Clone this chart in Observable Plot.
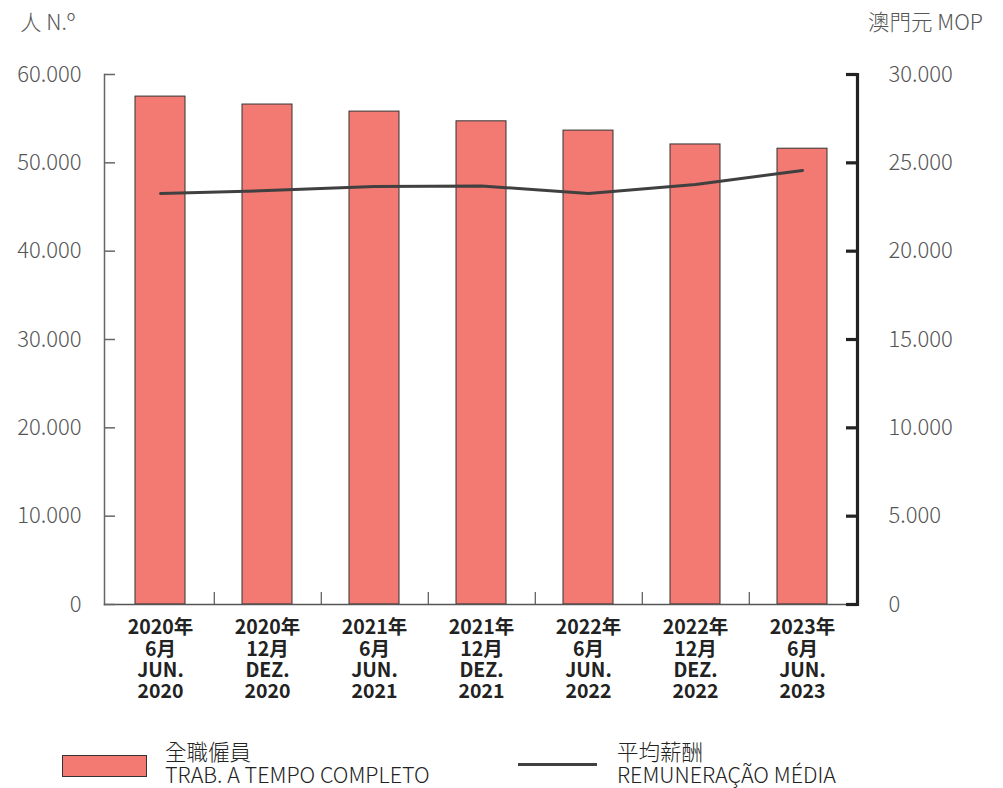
<!DOCTYPE html>
<html><head><meta charset="utf-8">
<script src="https://cdn.jsdelivr.net/npm/d3@7"></script>
<script src="https://cdn.jsdelivr.net/npm/@observablehq/plot@0.6"></script>
<style>
body{margin:0;background:#fff;font-family:"Noto Sans CJK TC","Noto Sans",sans-serif;}
#wrap{position:relative;width:1003px;height:788px;overflow:hidden;}
.unit{position:absolute;top:7px;font-size:21.5px;font-weight:300;color:#555;line-height:28px;}
.leg{position:absolute;font-size:21.5px;font-weight:300;color:#222;line-height:23px;}
.sw{position:absolute;}
</style></head><body>
<div id="wrap">
<div id="chart"></div>
<div class="unit" style="left:20px;">人 N.º</div>
<div class="unit" style="right:20px;">澳門元 MOP</div>
<div class="sw" style="left:62px;top:755px;width:83px;height:20px;background:#f27a72;border:1px solid #333;"></div>
<div class="leg" style="left:165px;top:739px;">全職僱員<br>TRAB. A TEMPO COMPLETO</div>
<div class="sw" style="left:518px;top:763px;width:79px;height:3px;background:#404040;"></div>
<div class="leg" style="left:617px;top:739px;">平均薪酬<br>REMUNERAÇÃO MÉDIA</div>
</div>
<script>
const periods = ["2020-06","2020-12","2021-06","2021-12","2022-06","2022-12","2023-06"];
const periodLabels = ["2020年\n6月\nJUN.\n2020","2020年\n12月\nDEZ.\n2020","2021年\n6月\nJUN.\n2021","2021年\n12月\nDEZ.\n2021","2022年\n6月\nJUN.\n2022","2022年\n12月\nDEZ.\n2022","2023年\n6月\nJUN.\n2023"];
const fullTimeEmployees = [57500,56600,55800,54700,53650,52080,51600];
const avgRemuneration = [23260,23430,23660,23690,23260,23770,24570];
const leftTicks = [0,10000,20000,30000,40000,50000,60000];
const rightTicks = [0,5000,10000,15000,20000,25000,30000];
const leftMax = 60000, rightMax = 30000;
const ratio = leftMax / rightMax;

const loc = d3.formatLocale({decimal:",",thousands:".",grouping:[3],currency:["",""]});
const fmt = loc.format(",d");
const data = periods.map((p,i)=>({p, label: periodLabels[i], emp: fullTimeEmployees[i], rem: avgRemuneration[i]}));
const labelOf = Object.fromEntries(periods.map((p,i)=>[p, periodLabels[i]]));

const W = 1003, H = 725, mL = 104, mR = 146, mT = 74, mB = 121;
const step = (W - mL - mR) / periods.length;
const font = '"Noto Sans CJK TC","Noto Sans",sans-serif';

const chart = Plot.plot({
  width: W, height: H,
  marginLeft: mL, marginRight: mR, marginTop: mT, marginBottom: mB,
  style: {fontFamily: font, background: "#fff", overflow: "visible"},
  x: {domain: periods, paddingInner: 0.535, paddingOuter: 0.2675, label: null},
  y: {domain: [0, leftMax], label: null},
  marks: [
    Plot.barY(data, {x: "p", y: "emp", fill: "#f27a72", stroke: "#333", strokeWidth: 1}),
    Plot.frame({anchor: "left", stroke: "#666", strokeWidth: 1.5}),
    Plot.frame({anchor: "bottom", stroke: "#555", strokeWidth: 1.5}),
    Plot.ruleY(leftTicks, {stroke: "#666", strokeWidth: 1.5, insetRight: (W - mL - mR) - 11}),
    Plot.ruleX(periods.slice(0, -1), {x: d => d, dx: step / 2, y1: 0, y2: 1350, stroke: "#555", strokeWidth: 1.2}),
    Plot.frame({anchor: "right", stroke: "#222", strokeWidth: 3.2}),
    Plot.ruleY(rightTicks.map(v => v * ratio), {stroke: "#222", strokeWidth: 3.2, insetLeft: (W - mL - mR) - 11}),
    Plot.lineY(data, {x: "p", y: d => d.rem * ratio, stroke: "#404040", strokeWidth: 3}),
    Plot.axisY(leftTicks, {anchor: "left", tickSize: 0, tickPadding: 23, tickFormat: fmt, fontSize: 22, fontWeight: 300, fill: "#555", label: null}),
    Plot.axisY(rightTicks.map(v => v * ratio), {anchor: "right", tickSize: 0, tickPadding: 31, tickFormat: d => fmt(d / ratio), fontSize: 22, fontWeight: 300, fill: "#555", label: null}),
    Plot.axisX({anchor: "bottom", tickSize: 0, tickPadding: 15, tickFormat: d => labelOf[d], fontSize: 19.5, fontWeight: "bold", fill: "#222", lineHeight: 1.08, label: null})
  ]
});
document.getElementById("chart").appendChild(chart);
</script>
</body></html>
